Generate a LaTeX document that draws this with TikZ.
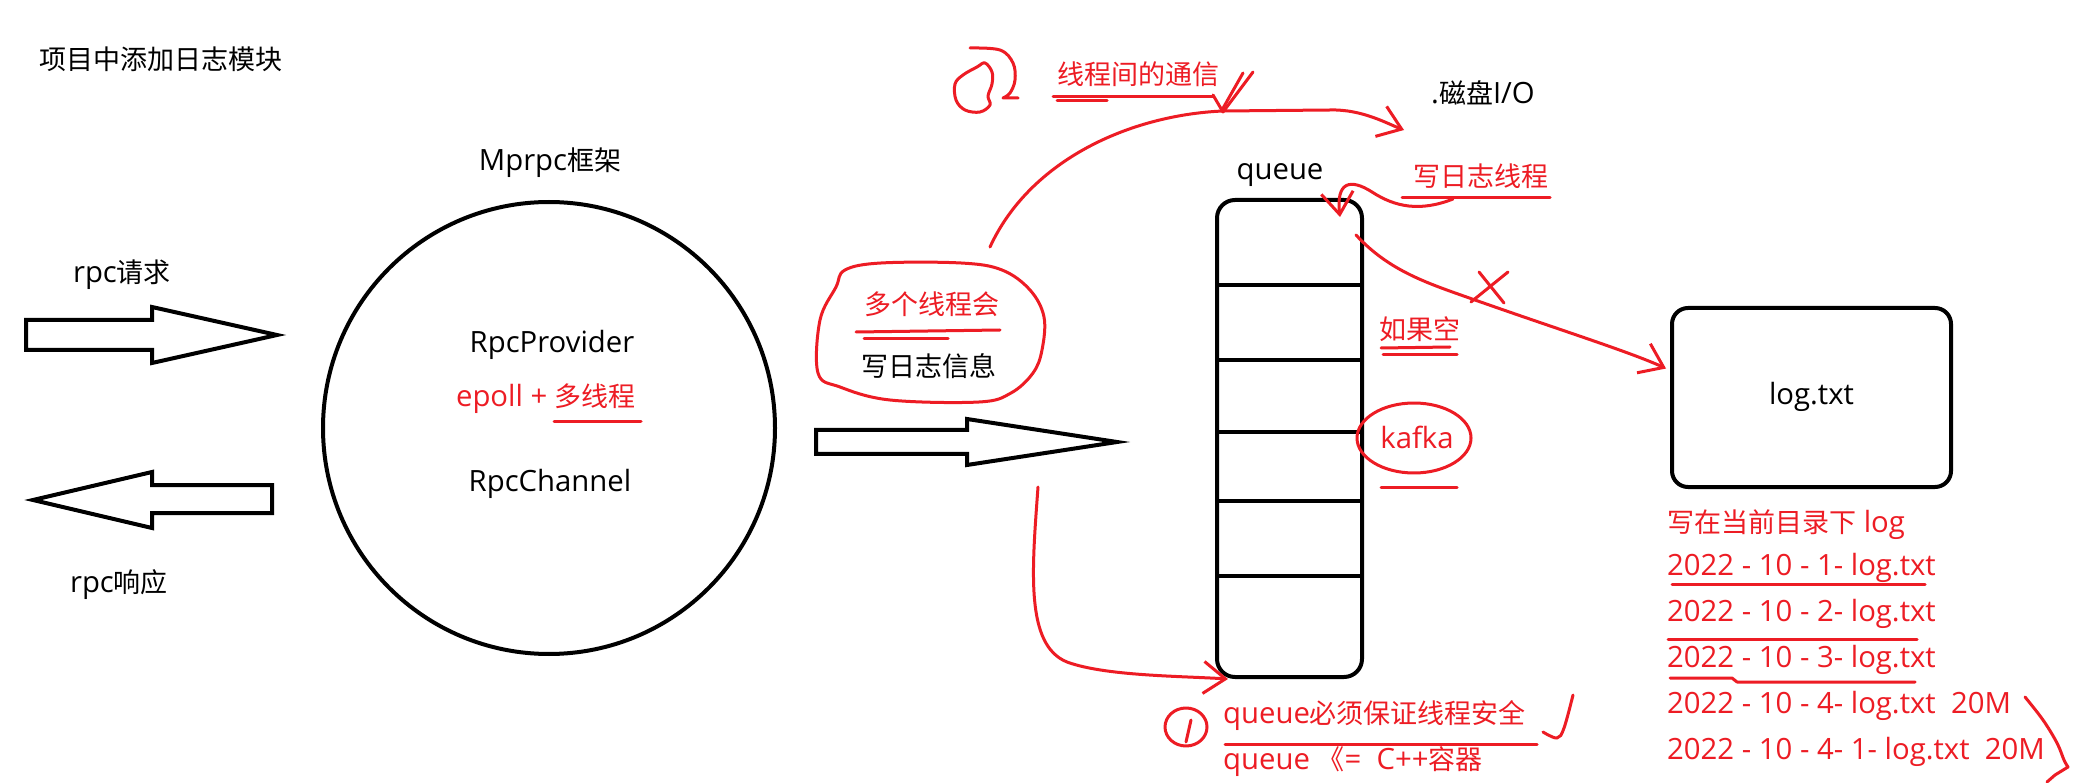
\documentclass[tikz,border=0pt]{standalone}
\usepackage{fontspec}
\setmainfont{Open Sans}[Scale=1.085]
\newfontfamily\cjk{Noto Sans CJK SC}
\usetikzlibrary{arrows.meta}
\definecolor{inkred}{RGB}{237,28,36}

\begin{document}
\begin{tikzpicture}[x=1pt, y=-1pt,
  every node/.style={inner sep=0pt, font=\fontsize{27}{32}\selectfont, text height=21pt, text depth=6pt},
  note/.style={text=inkred},
  pen/.style={draw=inkred, line width=3pt, line cap=round, line join=round},
  pen arrow/.style={pen, -{Straight Barb[length=22pt, width=32pt]}},
  box/.style={draw, line width=4pt, rounded corners=16pt},
  fat arrow/.style={draw, line width=4pt, line join=miter}]

\fill[white] (0,0) rectangle (2089,783);
\useasboundingbox (0,0) rectangle (2089,783);

% Title
\node (title) at (161,62) {\cjk 项目中添加日志模块};

% Mprpc framework
\node (mprpclabel) at (550,163) {Mprpc{\cjk 框架}};
\node[circle, draw, line width=4pt, minimum size=452pt] (mprpc) at (549,428) {};
\node (provider) at (552,345) {RpcProvider};
\node[note] (epoll) at (546,399) {epoll + {\cjk 多线程}};
\node (channel) at (550,484) {RpcChannel};
\draw[pen] (554,422) -- (641,422);

% rpc request / response
\node (req) at (122,275) {rpc{\cjk 请求}};
\node (resp) at (119,585) {rpc{\cjk 响应}};
\draw[fat arrow] (26,320) -- (152,320) -- (152,307) -- (277,335) -- (152,363) -- (152,350) -- (26,350) -- cycle;
\draw[fat arrow] (272,485) -- (152,485) -- (152,472) -- (33,500) -- (152,528) -- (152,513) -- (272,513) -- cycle;

% Writing log info
\node[note] (many) at (932,307) {\cjk 多个线程会};
\node (writeinfo) at (929,369) {\cjk 写日志信息};
\draw[pen] plot[smooth cycle, tension=0.6] coordinates {(845,270) (881,263) (961,263) (1002,270) (1030,290) (1044,317) (1042,350) (1033,373) (1011,393) (979,402) (890,400) (840,387) (818,373) (820,320) (836,287)};
\draw[pen] (856,332) -- (1000,330);
\draw[pen] (864,339) -- (948,339);
\draw[fat arrow] (816,430) -- (967,430) -- (967,419) -- (1117,442) -- (967,465) -- (967,454) -- (816,454) -- cycle;

% Queue
\node (queuelabel) at (1280,172) {queue};
\node[box, rounded corners=18pt, minimum width=145pt, minimum height=477pt] (queue) at (1289.5,438.5) {};
\foreach \y in {285,360,432,501,576}
  \draw[line width=4pt] (queue.west |- 0,\y) -- (queue.east |- 0,\y);

% Log file
\node[box, minimum width=279pt, minimum height=179pt] (logbox) at (1811.5,397.5) {log.txt};
\node (disk) at (1483,96) {.{\cjk 磁盘}I/O};

% Thread communication (2)
\node[note] (comm) at (1138,77) {\cjk 线程间的通信};
\draw[pen] (1053,97) -- (1213,97);
\draw[pen] (1057,101) -- (1107,101);
\draw[pen] (1213,95) -- (1223,112) -- (1253,72);
\draw[pen] (1243,73) -- (1222,110);
\draw[pen] plot[smooth, tension=0.6] coordinates {(970,48) (1000,50) (1013,63) (1015,80) (1010,93) (1003,98)} -- (1018,98);
\draw[pen] plot[smooth cycle, tension=0.6] coordinates {(985,63) (992,72) (992,84) (988,96) (990,105) (980,112) (965,110) (956,100) (955,84) (963,75) (977,67)};
\coordinate (bubtop) at (990,247);
\coordinate (diskin) at (1404,130);
\draw[pen arrow] (bubtop) .. controls (1030,160) and (1130,115) .. (1223,111) -- (1330,110) .. controls (1362,109) and (1388,124) .. (diskin);

% Log writing thread
\node[note] (writer) at (1481,179) {\cjk 写日志线程};
\draw[pen] (1402,198) -- (1550,198);
\coordinate (wlfrom) at (1453,199);
\coordinate (qtop) at (1340,217);
\draw[pen arrow] (wlfrom) .. controls (1420,212) and (1395,207) .. (1372,192) .. controls (1350,178) and (1336,182) .. (qtop);

% Queue to log.txt
\coordinate (qout) at (1356,235);
\draw[pen arrow] (qout) .. controls (1390,272) and (1430,284) .. (1475,300) .. controls (1560,330) and (1630,352) .. ([xshift=-4pt, yshift=29pt]logbox.west);
\draw[pen] (1479,272) -- (1504,303);
\draw[pen] (1508,272) -- (1471,302);

% If empty / kafka
\node[note] (empty) at (1420,332) {\cjk 如果空};
\draw[pen] (1381,348) -- (1450,347);
\draw[pen] (1383,355) -- (1457,355);
\node[note] (kafka) at (1417,441) {kafka};
\draw[pen] (1414,438) ellipse [x radius=57, y radius=35];
\draw[pen] (1381,487) -- (1457,487);

% Thread safety (1)
\coordinate (bubbot) at (1038,487);
\draw[pen arrow] (bubbot) .. controls (1032,570) and (1025,645) .. (1067,662) .. controls (1105,676) and (1180,676) .. ([xshift=13pt]queue.south west);
\draw[pen] (1186,727) ellipse [x radius=21, y radius=19];
\draw[pen] (1191,720) -- (1186,742);
\node[note, anchor=west] (safe) at (1223,716) {queue{\cjk 必须保证线程安全}};
\draw[pen] (1225,744) -- (1537,744);
\node[note, anchor=west] (container) at (1223,762) {queue {\cjk 《}=\ \ C++{\cjk 容器}};
\draw[pen] plot[smooth, tension=0.6] coordinates {(1543,732) (1557,738) (1564,728) (1573,695)};

% Log file names
\node[note, anchor=west] (logdir) at (1667,525) {{\cjk 写在当前目录下} log};
\foreach \t [count=\i] in {2022 - 10 - 1- log.txt, 2022 - 10 - 2- log.txt, 2022 - 10 - 3- log.txt, 2022 - 10 - 4- log.txt\ \ 20M, 2022 - 10 - 4- 1- log.txt\ \ 20M}
  \node[note, anchor=west] (file\i) at (1667, {522.5+45.8*\i}) {\t};
\draw[pen] (1672,584) -- (1925,584);
\draw[pen] (1668,639) -- (1917,639);
\draw[pen] (1670,678) -- (1732,678) -- (1737,682) -- (1915,682);
\draw[pen] plot[smooth, tension=0.6] coordinates {(2025,697) (2043,720) (2057,743) (2064,760) (2068,767)} -- (2055,775) -- (2047,782);

\end{tikzpicture}
\end{document}
